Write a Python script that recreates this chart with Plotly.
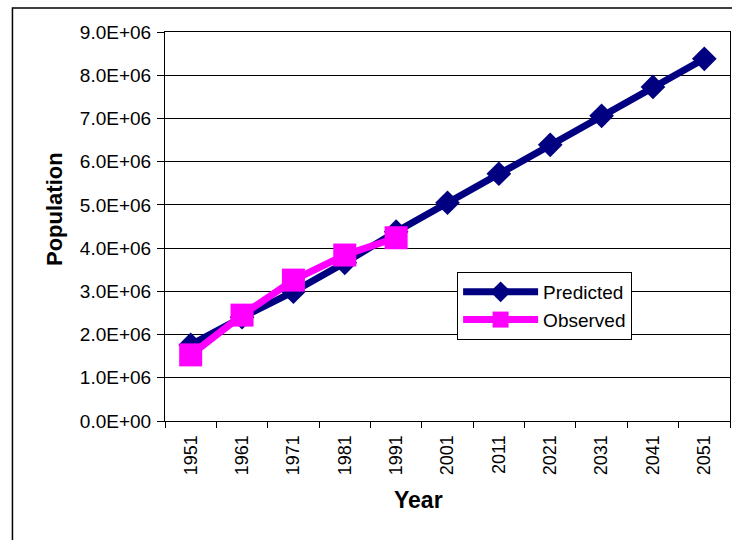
import plotly.graph_objects as go

# Decennial census years
years = ["1951", "1961", "1971", "1981", "1991", "2001", "2011", "2021", "2031", "2041", "2051"]

# Model output (population)
predicted = [1.76e6, 2.40e6, 2.99e6, 3.66e6, 4.38e6, 5.05e6, 5.72e6, 6.39e6, 7.06e6, 7.73e6, 8.38e6]

# Census counts (population)
observed_years = ["1951", "1961", "1971", "1981", "1991"]
observed = [1.53e6, 2.45e6, 3.26e6, 3.84e6, 4.24e6]

# Y-axis ticks
y_ticks = [0, 1e6, 2e6, 3e6, 4e6, 5e6, 6e6, 7e6, 8e6, 9e6]
y_tick_labels = ["0.0E+00", "1.0E+06", "2.0E+06", "3.0E+06", "4.0E+06",
                 "5.0E+06", "6.0E+06", "7.0E+06", "8.0E+06", "9.0E+06"]

FONT = "Arial, Liberation Sans, sans-serif"

fig = go.Figure()
fig.add_trace(go.Scatter(
    x=years, y=predicted, name="Predicted", mode="lines+markers",
    line=dict(color="#000080", width=7),
    marker=dict(symbol="diamond", size=19, color="#000080"),
))
fig.add_trace(go.Scatter(
    x=observed_years, y=observed, name="Observed", mode="lines+markers",
    line=dict(color="#FF00FF", width=7),
    marker=dict(symbol="square", size=23, color="#FF00FF"),
))

fig.update_layout(
    width=732, height=540,
    margin=dict(l=165, r=2, t=32, b=119),
    paper_bgcolor="white", plot_bgcolor="white",
    font=dict(family=FONT, color="black", size=18),
    showlegend=True,
    legend=dict(
        x=0.517, y=0.383, xanchor="left", yanchor="top",
        bgcolor="white", bordercolor="black", borderwidth=1,
        font=dict(size=19, family=FONT), itemwidth=75,
        tracegroupgap=0,
    ),
    xaxis=dict(
        type="category", categoryorder="array", categoryarray=years,
        range=[-0.5, 10.5],
        tickson="boundaries", ticks="outside", ticklen=6, tickcolor="black",
        tickangle=-90, showline=True, linecolor="black", linewidth=1,
        mirror=True, showgrid=False, ticklabelstandoff=6,
        tickfont=dict(size=18, family=FONT),
    ),
    yaxis=dict(
        range=[0, 9e6], tickvals=y_ticks, ticktext=y_tick_labels,
        ticks="outside", ticklen=7, tickcolor="black",
        showline=True, linecolor="black", linewidth=1, mirror=True,
        showgrid=True, gridcolor="black", gridwidth=1, zeroline=False,
        ticklabelstandoff=2,
        tickfont=dict(size=19, family=FONT),
    ),
)

# Axis titles
fig.add_annotation(text="<b>Year</b>", xref="paper", yref="paper",
                   x=(418 - 165) / 565, y=-(500 - 421) / 389,
                   xanchor="center", yanchor="middle", showarrow=False,
                   font=dict(size=23, family=FONT))
fig.add_annotation(text="<b>Population</b>", xref="paper", yref="paper",
                   x=-(165 - 54) / 565, y=(421 - 209) / 389, textangle=-90,
                   xanchor="center", yanchor="middle", showarrow=False,
                   font=dict(size=22, family=FONT))

# Outer chart-area border
fig.add_shape(type="rect", xref="paper", yref="paper",
              x0=-0.27, x1=1.05, y0=-0.40, y1=1.062,
              line=dict(color="black", width=1.5), fillcolor="rgba(0,0,0,0)",
              layer="below")

fig.write_html("out.html")
